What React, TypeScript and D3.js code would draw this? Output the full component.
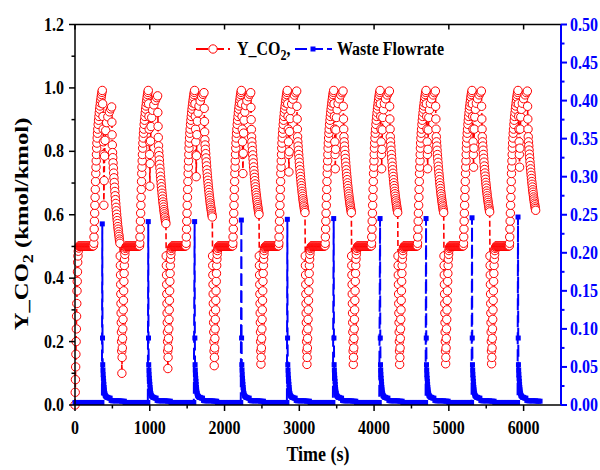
import React from 'react';
import * as d3 from 'd3';

const W = 600;
const H = 470;
const margin = { left: 75, right: 39, top: 24.5, bottom: 65 };

const xTicks = [0, 1000, 2000, 3000, 4000, 5000, 6000];
const xMinor = [500, 1500, 2500, 3500, 4500, 5500];
const yLeftTicks = [0, 0.2, 0.4, 0.6, 0.8, 1.0, 1.2];
const yLeftMinor = [0.1, 0.3, 0.5, 0.7, 0.9, 1.1];
const yRightTicks = [0, 0.05, 0.1, 0.15, 0.2, 0.25, 0.3, 0.35, 0.4, 0.45, 0.5];
const yRightMinor = [0.025, 0.075, 0.125, 0.175, 0.225, 0.275, 0.325, 0.375, 0.425, 0.475];

// one waste-flow spike per cycle (s)
const spikeTimes = [365, 980, 1600, 2225, 2840, 3460, 4080, 4695, 5310, 5925];
const flowPeaks = [0.238, 0.241, 0.241, 0.243, 0.244, 0.245, 0.245, 0.245, 0.246, 0.247];

// per-cycle readings of Y_CO2
const co2DropLow = [0.63, 0.69, 0.72, 0.73, 0.735, 0.745, 0.745, 0.745, 0.75, 0.75];
const co2SecondPeak = [0.94, 0.975, 0.985, 0.985, 0.99, 0.99, 0.99, 0.99, 0.99, 0.99];
const co2DecayStart = [0.78, 0.8, 0.82, 0.83, 0.83, 0.83, 0.83, 0.83, 0.83, 0.83];
const co2DecayEnd = [0.51, 0.572, 0.593, 0.601, 0.607, 0.607, 0.607, 0.607, 0.609, 0.614];
const co2TroughMin = [0.1, 0.115, 0.124, 0.129, 0.128, 0.128, 0.128, 0.13, 0.13];

// start-up from t = 0
const startTimes = [0, 3, 6, 9, 12, 15, 18, 21, 24, 27, 30, 33, 36, 40, 44, 49, 55];
const startValues = [0, 0.04, 0.08, 0.12, 0.16, 0.2, 0.24, 0.28, 0.32, 0.36, 0.39, 0.42, 0.45, 0.47, 0.485, 0.495, 0.5];

const plateau = 0.502;
const plateauStep = 5;

// shape of a cycle, offsets in s from the spike
const riseOffsets = [-114, -111, -108, -105, -102, -99, -96, -93, -90, -87, -84, -81, -78, -75, -72, -68, -64, -60, -55, -50, -45, -40, -35, -30, -25, -20, -15, -10, -5, 0];
const riseValues = [0.51, 0.53, 0.555, 0.58, 0.605, 0.63, 0.655, 0.68, 0.705, 0.73, 0.75, 0.77, 0.79, 0.81, 0.826, 0.842, 0.857, 0.87, 0.885, 0.898, 0.91, 0.922, 0.933, 0.943, 0.953, 0.962, 0.971, 0.979, 0.986, 0.992];
const dropOffsets = [5, 9, 12, 15, 18];
const dropValues = [0.95, 0.91, 0.87, 0.83, 0.79];
const dropLowOffset = 21;
const recoverOffsets = [25, 30, 37, 46, 58, 74, 95, 112];
const recoverFrac = [0.25, 0.5, 0.66, 0.76, 0.84, 0.9, 0.95, 0.98];
const secondPeakOffset = 125;
const fallOffsets = [128, 131, 134, 137];
const fallFrac = [0.3, 0.55, 0.75, 0.9];
const decayOffsets = [140, 144, 148, 152, 156, 160, 164, 168, 172, 176, 180, 184, 188, 192, 196, 200, 204, 208, 212, 216, 220, 224, 228, 232, 236];
const decayFrac = [0, 0.06, 0.12, 0.18, 0.235, 0.29, 0.345, 0.395, 0.445, 0.49, 0.535, 0.58, 0.62, 0.66, 0.7, 0.735, 0.77, 0.805, 0.835, 0.865, 0.895, 0.92, 0.95, 0.975, 1];
const troughOffsets = [240, 242, 244, 246, 248, 250, 252, 254, 256, 258, 260, 262, 265, 268, 271, 274, 277, 280, 283, 286, 289, 292, 295, 298, 302, 306, 311, 317, 323];
const troughValues = [0.47, 0.44, 0.41, 0.38, 0.35, 0.32, 0.29, 0.26, 0.23, 0.2, 0.17, 0, 0.15, 0.18, 0.21, 0.24, 0.27, 0.3, 0.33, 0.36, 0.39, 0.415, 0.44, 0.46, 0.475, 0.487, 0.494, 0.498, 0.5];
const troughMinIndex = 11;

// waste flow shape after the spike
const flowOffsets = [0, 3, 6, 9, 12, 15, 18, 21, 24, 27, 30, 34, 38, 44, 52, 62, 75, 90, 105, 118, 135, 155, 175, 195, 215, 235, 255, 275, 295];
const flowValues = [0, 0.088, 0.053, 0.046, 0.04, 0.035, 0.031, 0.027, 0.023, 0.02, 0.017, 0.015, 0.013, 0.012, 0.011, 0.01, 0.01, 0.009, 0.009, 0.006, 0.0055, 0.0055, 0.0055, 0.0055, 0.0055, 0.0055, 0.005, 0.005, 0.005];
const flowBase = 0.0033;
const flowBaseStep = 8;

type Pt = [number, number];

function buildCo2(): Pt[] {
  const pts: Pt[] = startTimes.map((t, i) => [t, startValues[i]] as Pt);
  spikeTimes.forEach((ts, c) => {
    const from =
      c === 0
        ? startTimes[startTimes.length - 1] + plateauStep
        : spikeTimes[c - 1] + troughOffsets[troughOffsets.length - 1] + plateauStep;
    for (let t = from; t < ts + riseOffsets[0] - 2; t += plateauStep) pts.push([t, plateau]);
    riseOffsets.forEach((o, i) => pts.push([ts + o, riseValues[i]]));
    dropOffsets.forEach((o, i) => pts.push([ts + o, dropValues[i]]));
    const low = co2DropLow[c];
    const p2 = co2SecondPeak[c];
    pts.push([ts + dropLowOffset, low]);
    recoverOffsets.forEach((o, i) => pts.push([ts + o, low + (p2 - low) * recoverFrac[i]]));
    pts.push([ts + secondPeakOffset, p2]);
    const d0 = co2DecayStart[c];
    fallOffsets.forEach((o, i) => pts.push([ts + o, p2 + (d0 - p2) * fallFrac[i]]));
    const d1 = co2DecayEnd[c];
    decayOffsets.forEach((o, i) => pts.push([ts + o, d0 + (d1 - d0) * decayFrac[i]]));
    if (c < co2TroughMin.length) {
      troughOffsets.forEach((o, i) =>
        pts.push([ts + o, i === troughMinIndex ? co2TroughMin[c] : troughValues[i]])
      );
    }
  });
  return pts;
}

function buildFlow(): Pt[] {
  const pts: Pt[] = [];
  spikeTimes.forEach((ts, c) => {
    const from = c === 0 ? 0 : spikeTimes[c - 1] + flowOffsets[flowOffsets.length - 1] + 10;
    for (let t = from; t < ts - 3; t += flowBaseStep) pts.push([t, flowBase]);
    flowOffsets.forEach((o, i) => pts.push([ts + o, i === 0 ? flowPeaks[c] : flowValues[i]]));
  });
  return pts;
}

const co2Data = buildCo2();
const flowData = buildFlow();

const font = "'Liberation Serif', 'Times New Roman', serif";
const RED = '#ff0000';
const BLUE = '#0000ff';
const STRETCH = 1.18;

type TxtProps = {
  x: number;
  y: number;
  anchor?: string;
  size: number;
  fill?: string;
  children: React.ReactNode;
};

// the reference text is a little taller than wide
const Txt = ({ x, y, anchor = 'start', size, fill = '#000', children }: TxtProps) => (
  <text
    transform={`translate(${x},${y}) scale(1,${STRETCH})`}
    textAnchor={anchor}
    fontFamily={font}
    fontWeight="bold"
    fontSize={size}
    fill={fill}
  >
    {children}
  </text>
);

export default function App() {
  const x = d3.scaleLinear().domain([0, 6500]).range([margin.left, W - margin.right]);
  const yL = d3.scaleLinear().domain([0, 1.2]).range([H - margin.bottom, margin.top]);
  const yR = d3.scaleLinear().domain([0, 0.5]).range([H - margin.bottom, margin.top]);
  const x0 = margin.left;
  const x1 = W - margin.right;
  const yb = H - margin.bottom;
  const yt = margin.top;

  const co2Line = d3.line<Pt>().x((d) => x(d[0])).y((d) => yL(d[1]))(co2Data) || '';
  const flowLine = d3.line<Pt>().x((d) => x(d[0])).y((d) => yR(d[1]))(flowData) || '';

  return (
    <svg width={W} height={H} style={{ position: 'absolute', left: 0, top: 0, background: '#fff' }}>
      {/* frame */}
      <line x1={x0} x2={x1} y1={yt} y2={yt} stroke="#000" strokeWidth={1.5} />
      {xTicks.map((t) => (
        <line key={'tt' + t} x1={x(t)} x2={x(t)} y1={yt} y2={yt + 5} stroke="#000" strokeWidth={1.5} />
      ))}

      {/* red series */}
      <path d={co2Line} fill="none" stroke={RED} strokeWidth={1.6} strokeDasharray="6,3" />
      {co2Data.map((d, i) => (
        <circle key={'c' + i} cx={x(d[0])} cy={yL(d[1])} r={4.2} fill="#fff" stroke={RED} strokeWidth={1} />
      ))}

      {/* blue series */}
      <path d={flowLine} fill="none" stroke={BLUE} strokeWidth={2} strokeDasharray="12,5" />
      {flowData.map((d, i) => (
        <rect key={'s' + i} x={x(d[0]) - 2.5} y={yR(d[1]) - 2.5} width={5} height={5} fill={BLUE} />
      ))}

      {/* bottom axis */}
      <line x1={x0} x2={x1} y1={yb} y2={yb} stroke="#000" strokeWidth={1.5} />
      {xTicks.map((t) => (
        <g key={'xt' + t}>
          <line x1={x(t)} x2={x(t)} y1={yb} y2={yb + 6} stroke="#000" strokeWidth={1.5} />
          <Txt x={x(t)} y={434} anchor="middle" size={16}>
            {t}
          </Txt>
        </g>
      ))}
      {xMinor.map((t) => (
        <line key={'xm' + t} x1={x(t)} x2={x(t)} y1={yb} y2={yb + 3.5} stroke="#000" strokeWidth={1.5} />
      ))}

      {/* left axis */}
      <line x1={x0} x2={x0} y1={yt} y2={yb} stroke="#000" strokeWidth={1.5} />
      {yLeftTicks.map((t) => (
        <g key={'yl' + t}>
          <line x1={x0 - 6} x2={x0} y1={yL(t)} y2={yL(t)} stroke="#000" strokeWidth={1.5} />
          <Txt x={64} y={yL(t) + 6} anchor="end" size={16}>
            {t.toFixed(1)}
          </Txt>
        </g>
      ))}
      {yLeftMinor.map((t) => (
        <line key={'ylm' + t} x1={x0 - 3.5} x2={x0} y1={yL(t)} y2={yL(t)} stroke="#000" strokeWidth={1.5} />
      ))}

      {/* right axis */}
      <line x1={x1} x2={x1} y1={yt} y2={yb} stroke={BLUE} strokeWidth={2} />
      {yRightTicks.map((t) => (
        <g key={'yr' + t}>
          <line x1={x1} x2={x1 + 6} y1={yR(t)} y2={yR(t)} stroke={BLUE} strokeWidth={2} />
          <Txt x={570} y={yR(t) + 6} size={16} fill={BLUE}>
            {t.toFixed(2)}
          </Txt>
        </g>
      ))}
      {yRightMinor.map((t) => (
        <line key={'yrm' + t} x1={x1} x2={x1 + 3.5} y1={yR(t)} y2={yR(t)} stroke={BLUE} strokeWidth={2} />
      ))}

      {/* axis titles */}
      <Txt x={(x0 + x1) / 2} y={461} anchor="middle" size={18}>
        Time (s)
      </Txt>
      <text
        transform="translate(28,224) rotate(-90) scale(1.3,1)"
        textAnchor="middle"
        fontFamily={font}
        fontWeight="bold"
        fontSize={19}
      >
        <tspan>Y_CO</tspan>
        <tspan dy={5} fontSize={14}>2</tspan>
        <tspan dy={-5}> (kmol/kmol)</tspan>
      </text>

      {/* legend */}
      <line x1={196} x2={230} y1={49} y2={49} stroke={RED} strokeWidth={2} strokeDasharray="12,4" />
      <circle cx={213} cy={49} r={4.2} fill="#fff" stroke={RED} strokeWidth={1} />
      <Txt x={237} y={55} size={16}>
        <tspan>Y_CO</tspan>
        <tspan dy={4} fontSize={12}>2</tspan>
        <tspan dy={-4}>,</tspan>
      </Txt>
      <line x1={295} x2={332} y1={49} y2={49} stroke={BLUE} strokeWidth={2} strokeDasharray="12,4" />
      <rect x={310.5} y={46.5} width={5} height={5} fill={BLUE} />
      <Txt x={337} y={55} size={16}>
        Waste Flowrate
      </Txt>
    </svg>
  );
}
